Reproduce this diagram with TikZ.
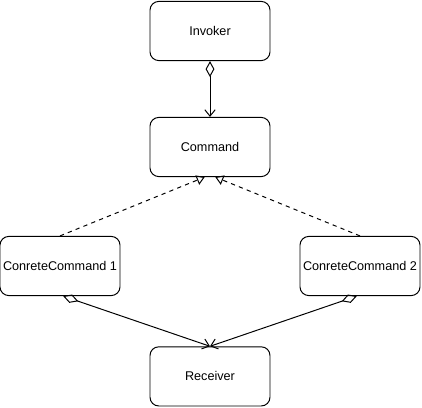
\documentclass[tikz,border=0pt]{standalone}
\usepackage{fontspec}
\setmainfont{Liberation Sans}
\usetikzlibrary{positioning, arrows.meta}

\begin{document}
\begin{tikzpicture}[
    % GLOBAL CFG
    font=\fontsize{9}{11}\selectfont,
    line width=0.7pt,
    % Styles
    cls/.style={% For the class boxes
        rectangle,
        rounded corners=2.2mm,
        draw,
        minimum width=3cm,
        minimum height=1.48cm,
        inner sep=1pt,
        },
    Aggr/.style={% Aggregation: diamond at the owner, open head at the part
        {Diamond[open, length=4mm, width=2.2mm]}-{Straight Barb[length=1.6mm, width=2.6mm]},
        },
    Realize/.style={% Dashed with hollow triangle
        dash pattern=on 3pt off 3pt,
        -{Triangle[open, length=2mm, width=2.5mm]},
        },
    ]

    % Fix the margins
    \useasboundingbox (0,0) rectangle (10.55,-10.2);

    % Draw the classes
    \node [cls] (invoker) at (5.25,-0.775) {Invoker};
    \node [cls] (command) at (5.25,-3.675) {Command};
    \node [cls] (concrete1) at (1.5,-6.65) {ConreteCommand 1};
    \node [cls] (concrete2) at (9,-6.65) {ConreteCommand 2};
    \node [cls] (receiver) at (5.25,-9.41) {Receiver};

% Start connecting all.
    \draw [Aggr] (invoker) -- (command);

    % Realizations
    \draw [Realize] (concrete1.north) -- (command.260);
    \draw [Realize] (concrete2.north) -- (command.280);

    % Receivers
    \draw [Aggr] (concrete1.276) -- (receiver.north);
    \draw [Aggr] (concrete2.264) -- (receiver.north);

\end{tikzpicture}
\end{document}
